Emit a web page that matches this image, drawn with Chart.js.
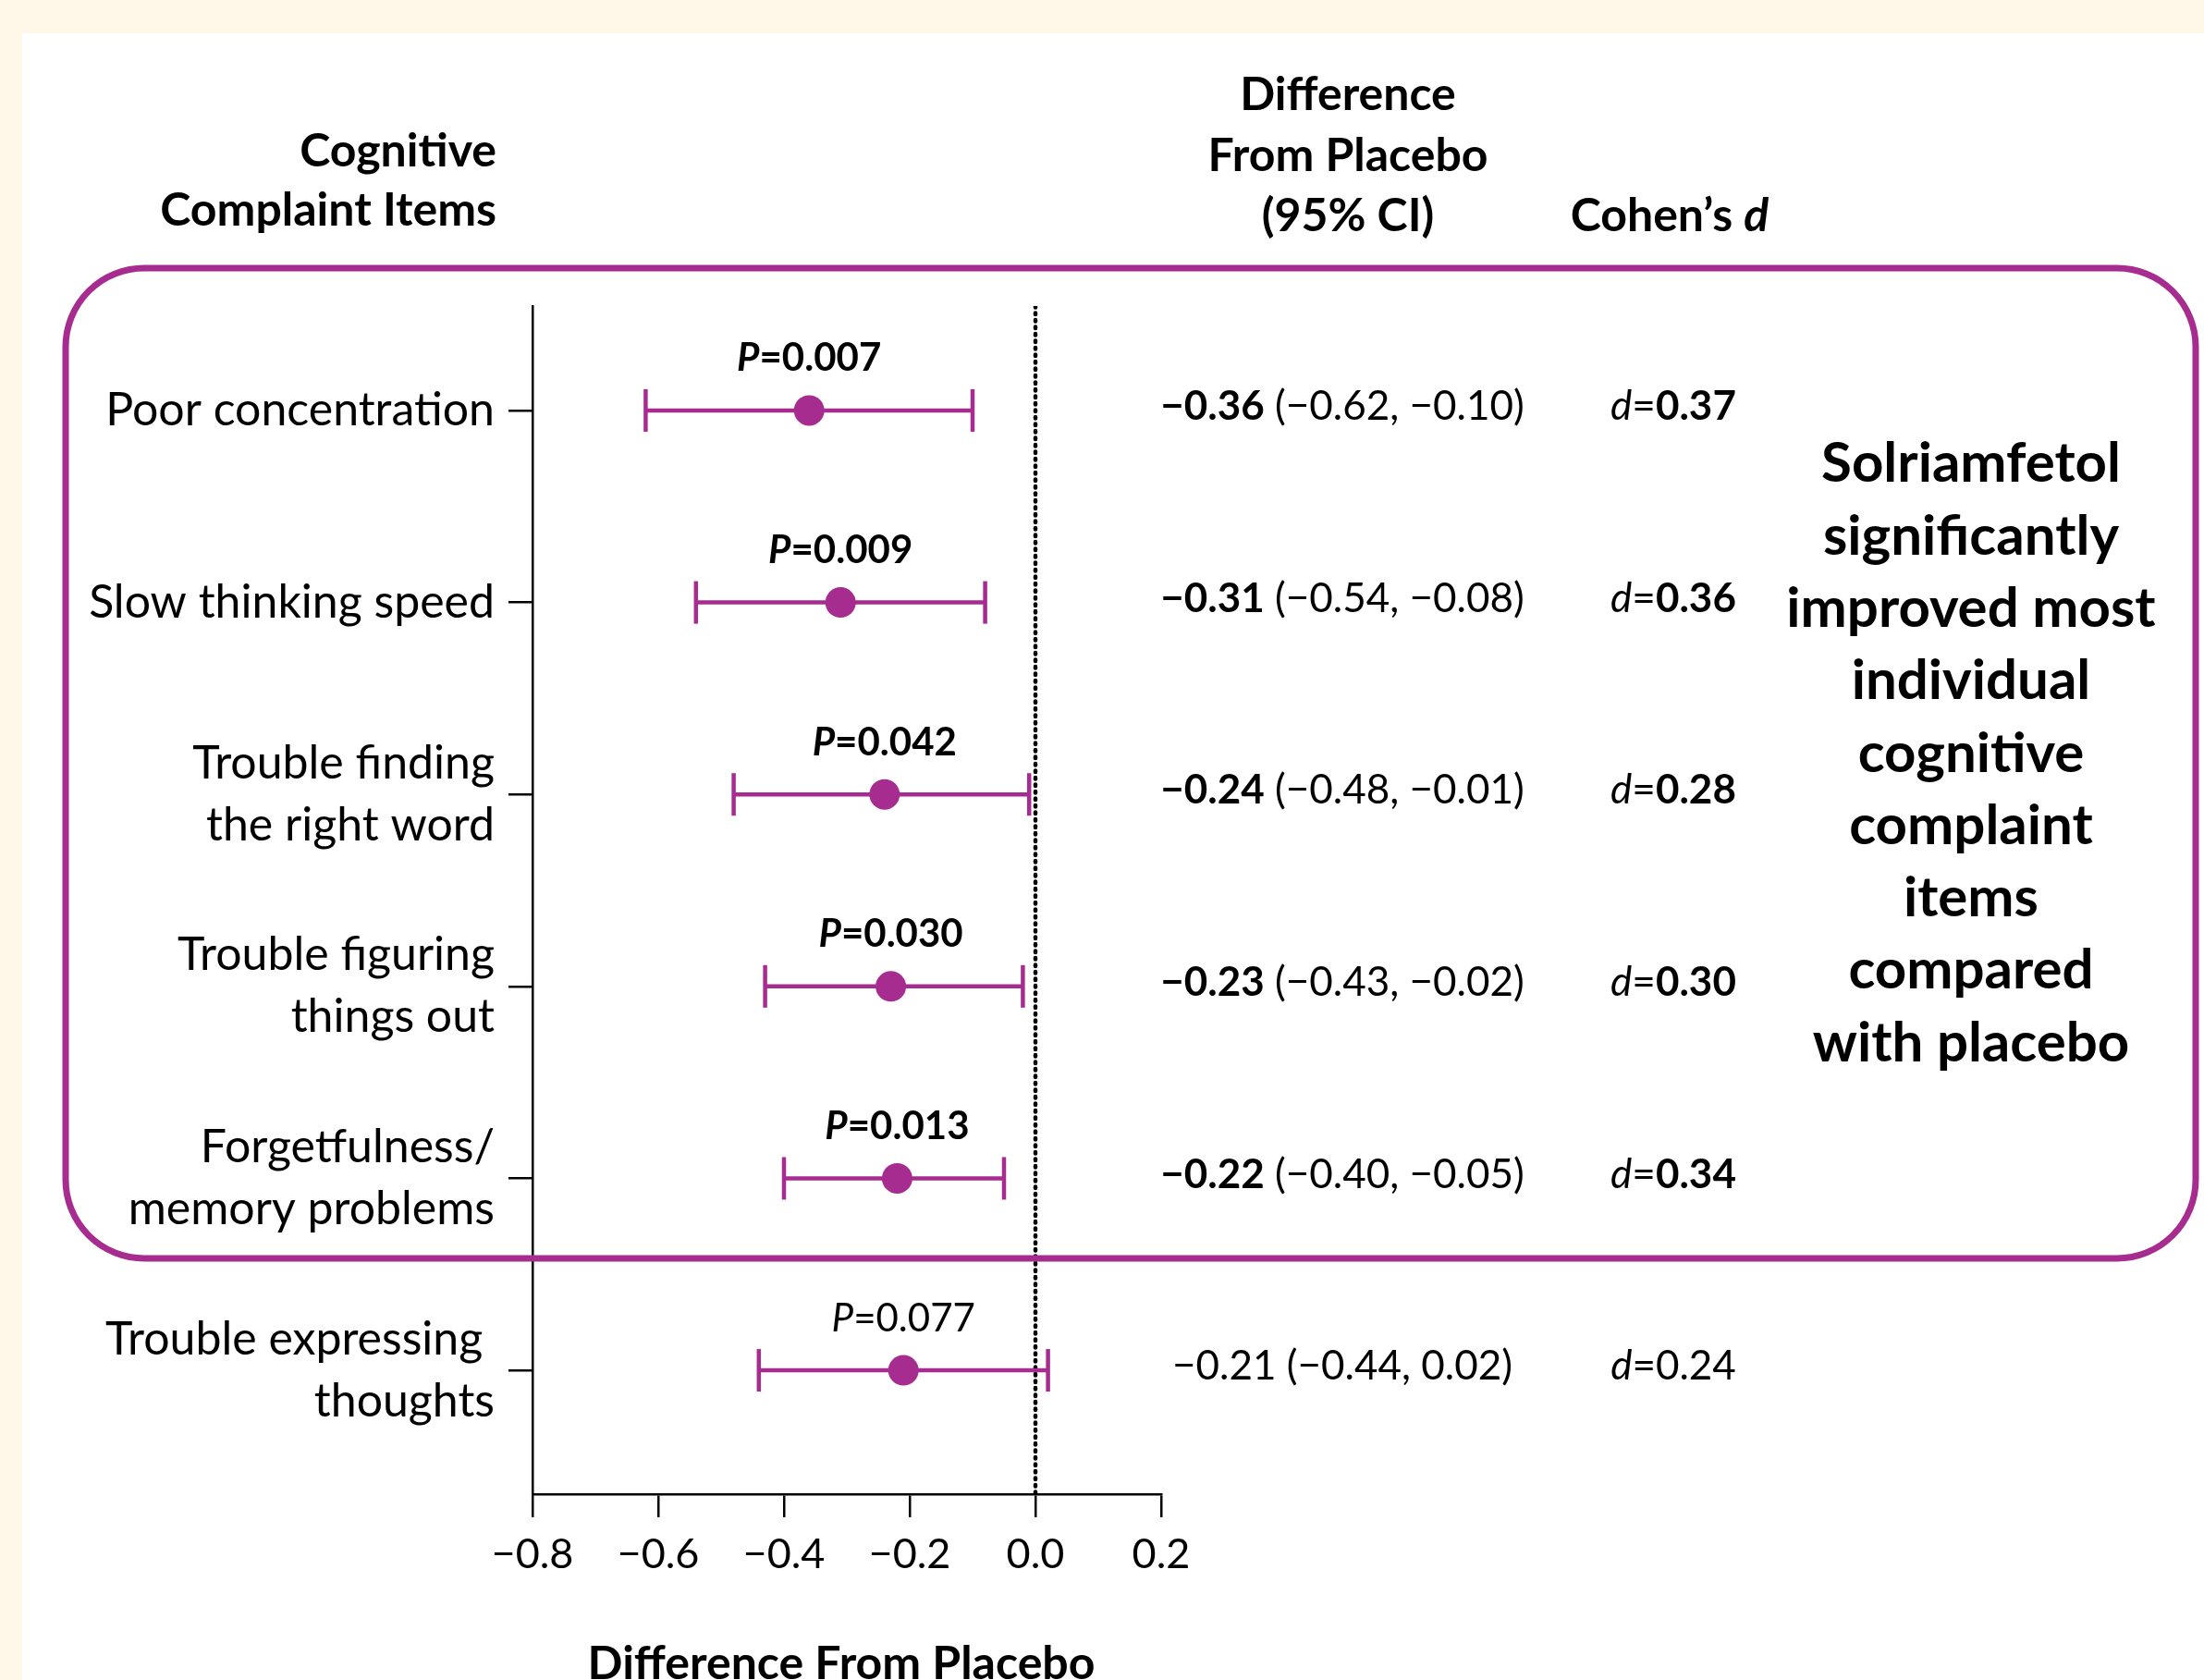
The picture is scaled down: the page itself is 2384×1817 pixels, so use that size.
<!DOCTYPE html>
<html>
<head>
<meta charset="utf-8">
<title>Cognitive complaint items - difference from placebo</title>
<script src="https://cdn.jsdelivr.net/npm/chart.js@4.4.1/dist/chart.umd.min.js"></script>
<style>
  html, body { margin: 0; padding: 0; background: #fff7e7; }
  canvas { display: block; }
</style>
</head>
<body>
<canvas id="forest-chart" width="2384" height="1817"></canvas>
<script>
'use strict';

// ************* Data **************
let categories = [
  ['Poor concentration'],
  ['Slow thinking speed'],
  ['Trouble finding', 'the right word'],
  ['Trouble figuring', 'things out'],
  ['Forgetfulness/', 'memory problems'],
  ['Trouble expressing ', 'thoughts']
];
let diffMean = [-0.36, -0.31, -0.24, -0.23, -0.22, -0.21];
let ciLow = [-0.62, -0.54, -0.48, -0.43, -0.40, -0.44];
let ciHigh = [-0.10, -0.08, -0.01, -0.02, -0.05, 0.02];
let pValues = ['0.007', '0.009', '0.042', '0.030', '0.013', '0.077'];
let cohensD = ['0.37', '0.36', '0.28', '0.30', '0.34', '0.24'];
let significant = [true, true, true, true, true, false];
let xTickValues = [-0.8, -0.6, -0.4, -0.2, 0.0, 0.2];

let summaryLines = ['Solriamfetol', 'significantly', 'improved most', 'individual',
  'cognitive', 'complaint', 'items', 'compared', 'with placebo'];

// ************* Look **************
const FONT = 'Lato';
const PURPLE = '#a72c90';
const CREAM = '#fff7e7';
const Y_MIN = -0.544;
const Y_MAX = 5.645;
const DIFF_COL_X = 1452;
const D_COL_X = 1810;

// ************* Helpers **************
function fmt(v, digits) {
  if (Math.abs(v) < 1e-9) v = 0;
  return (v < 0 ? '\u2212' : '') + Math.abs(v).toFixed(digits);
}

function font(size, weight, style) {
  return `${style || 'normal'} ${weight || 'normal'} ${size}px ${FONT}`;
}

// draws a row of differently styled pieces as one line
function drawParts(ctx, parts, x, y, align) {
  let total = 0;
  parts.forEach(p => { ctx.font = p.font; total += ctx.measureText(p.text).width; });
  let cx = x;
  if (align === 'center') cx = x - total / 2;
  if (align === 'right') cx = x - total;
  ctx.textAlign = 'left';
  ctx.textBaseline = 'middle';
  parts.forEach(p => {
    ctx.font = p.font;
    ctx.fillText(p.text, cx, y);
    cx += ctx.measureText(p.text).width;
  });
}

// ************* Decorations plugin **************
const decorPlugin = {
  id: 'decor',
  beforeDraw(chart) {
    let ctx = chart.ctx;
    ctx.save();
    ctx.fillStyle = CREAM;
    ctx.fillRect(0, 0, chart.width, chart.height);
    ctx.fillStyle = '#ffffff';
    ctx.fillRect(24, 36, chart.width - 24, chart.height - 36);
    ctx.restore();
  },
  afterDraw(chart) {
    let ctx = chart.ctx;
    let xScale = chart.scales.x;
    let yScale = chart.scales.y;
    ctx.save();
    ctx.fillStyle = '#000';

    // column headers
    let hb = font(50, 'bold');
    drawParts(ctx, [{ text: 'Cognitive', font: hb }], 537, 164, 'right');
    drawParts(ctx, [{ text: 'Complaint Items', font: hb }], 537, 228, 'right');
    drawParts(ctx, [{ text: 'Difference', font: hb }], 1458, 103, 'center');
    drawParts(ctx, [{ text: 'From Placebo', font: hb }], 1458, 169, 'center');
    drawParts(ctx, [{ text: '(95% CI)', font: hb }], 1458, 234, 'center');
    drawParts(ctx, [{ text: 'Cohen\u2019s ', font: hb }, { text: 'd', font: font(50, 'bold', 'italic') }], 1806, 234, 'center');

    for (let i = 0; i < categories.length; i++) {
      let y = yScale.getPixelForValue(i);
      let w = significant[i] ? 'bold' : 'normal';

      // P value above the point
      drawParts(ctx, [
        { text: 'P', font: font(42, w, 'italic') },
        { text: '=' + pValues[i], font: font(42, w) }
      ], xScale.getPixelForValue(diffMean[i]), y - 56, 'center');

      // difference (95% CI)
      drawParts(ctx, [
        { text: fmt(diffMean[i], 2), font: font(44, w) },
        { text: ' (' + fmt(ciLow[i], 2) + ', ' + fmt(ciHigh[i], 2) + ')', font: font(44) }
      ], DIFF_COL_X, y - 4, 'center');

      // Cohen's d
      drawParts(ctx, [
        { text: 'd', font: font(44, 'normal', 'italic') },
        { text: '=', font: font(44) },
        { text: cohensD[i], font: font(44, w) }
      ], D_COL_X, y - 4, 'center');
    }

    // summary text on the right
    for (let j = 0; j < summaryLines.length; j++) {
      drawParts(ctx, [{ text: summaryLines[j], font: font(60, 'bold') }], 2132, 502 + j * 78.3, 'center');
    }

    // x axis title
    drawParts(ctx, [{ text: 'Difference From Placebo', font: font(50, 'bold') }], 910, 1800, 'center');

    // box round the significant items
    ctx.strokeStyle = PURPLE;
    ctx.lineWidth = 7;
    ctx.beginPath();
    ctx.roundRect(71, 290, 2375 - 71, 1361 - 290, 85);
    ctx.stroke();

    ctx.restore();
  }
};

// ************* Datasets **************
let datasets = [];

datasets.push({
  label: 'Difference',
  data: diffMean.map((v, i) => ({ x: v, y: i })),
  pointRadius: 16.5,
  pointBackgroundColor: PURPLE,
  pointBorderWidth: 0,
  order: 0
});

for (let i = 0; i < categories.length; i++) {
  datasets.push({
    label: 'CI ' + i,
    data: [{ x: ciLow[i], y: i }, { x: ciHigh[i], y: i }],
    showLine: true,
    borderColor: PURPLE,
    borderWidth: 4.5,
    pointStyle: 'line',
    rotation: 90,
    pointRadius: 23,
    pointBorderColor: PURPLE,
    pointBorderWidth: 4.5,
    order: 1
  });
}

datasets.push({
  label: 'No difference',
  data: [{ x: 0, y: Y_MIN }, { x: 0, y: Y_MAX }],
  showLine: true,
  borderColor: '#000',
  borderWidth: 4.5,
  borderDash: [1.5, 6],
  borderCapStyle: 'round',
  pointRadius: 0,
  order: 2
});

// ************* Chart **************
let canvasElem = document.getElementById('forest-chart');

new Chart(canvasElem, {
  type: 'scatter',
  data: { datasets: datasets },
  options: {
    responsive: false,
    animation: false,
    devicePixelRatio: 1,
    events: [],
    layout: { padding: { left: 0, top: 331, right: 1128, bottom: 0 } },
    plugins: {
      legend: { display: false },
      tooltip: { enabled: false }
    },
    scales: {
      x: {
        min: -0.8,
        max: 0.2,
        afterBuildTicks: (scale) => { scale.ticks = xTickValues.map(v => ({ value: v })); },
        afterFit: (scale) => { scale.height = 201; },
        ticks: {
          callback: (v) => fmt(v, 1),
          color: '#000',
          padding: 13,
          font: { family: FONT, size: 45 }
        },
        grid: { drawOnChartArea: false, tickLength: 25, color: '#000', lineWidth: 2.5 },
        border: { color: '#000', width: 2.5 }
      },
      y: {
        reverse: true,
        min: Y_MIN,
        max: Y_MAX,
        afterBuildTicks: (scale) => { scale.ticks = categories.map((c, i) => ({ value: i })); },
        afterFit: (scale) => { scale.width = 576; },
        ticks: {
          callback: (v) => categories[v],
          color: '#000',
          padding: 15,
          font: { family: FONT, size: 50, lineHeight: 1.34 }
        },
        grid: { drawOnChartArea: false, tickLength: 26, color: '#000', lineWidth: 2.5 },
        border: { color: '#000', width: 2.5 }
      }
    }
  },
  plugins: [decorPlugin]
});
</script>
</body>
</html>
